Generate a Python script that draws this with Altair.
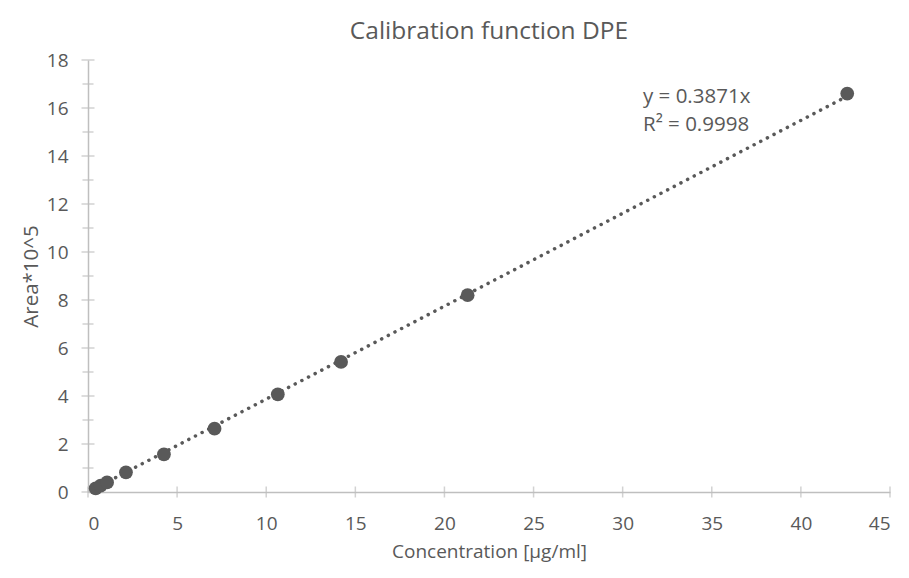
import altair as alt
import pandas as pd

# ---- data ----
conc = [0.43, 0.71, 1.07, 2.13, 4.26, 7.10, 10.65, 14.20, 21.30, 42.60]
area = [0.15, 0.27, 0.40, 0.82, 1.57, 2.64, 4.07, 5.42, 8.20, 16.60]
slope = 0.3871
r2 = 0.9998
x_ticks = [0, 5, 10, 15, 20, 25, 30, 35, 40, 45]
y_major = [0, 2, 4, 6, 8, 10, 12, 14, 16, 18]
y_minor = [1, 3, 5, 7, 9, 11, 13, 15, 17]

GRAY = "#595959"
AXC = "#BFBFBF"
FONT = "Open Sans"
W, H = 802, 432

points = pd.DataFrame({"conc": conc, "area": area})
trend = pd.DataFrame({"conc": [min(conc), max(conc)]})
xt = pd.DataFrame({"v": x_ticks})
ytM = pd.DataFrame({"v": y_major})
ytm = pd.DataFrame({"v": y_minor})
eq = pd.DataFrame({"t": [f"y = {slope}x"]})
rr = pd.DataFrame({"t": [f"R² = {r2}"]})

xs = alt.Scale(domain=[0, 45], nice=False, zero=False)
ys = alt.Scale(domain=[0, 18], nice=False, zero=False)

x_axis = alt.Axis(values=x_ticks, title="Concentration [µg/ml]", ticks=False, grid=False,
                  domainColor=AXC, domainWidth=1.5, labelPadding=22, titlePadding=9,
                  labelFontSize=19, labelColor=GRAY, labelFont=FONT,
                  titleFontSize=19, titleColor=GRAY, titleFont=FONT, titleFontWeight="normal")
y_axis = alt.Axis(values=y_major, title="Area*10^5", ticks=False, grid=False,
                  domainColor=AXC, domainWidth=1.5, labelPadding=20, titlePadding=5,
                  labelFontSize=19, labelColor=GRAY, labelFont=FONT,
                  titleFontSize=20.5, titleColor=GRAY, titleFont=FONT, titleFontWeight="normal")

axes = alt.Chart(points).mark_point(opacity=0).encode(
    x=alt.X("conc:Q", scale=xs, axis=x_axis),
    y=alt.Y("area:Q", scale=ys, axis=y_axis),
)

xtick = alt.Chart(xt).mark_tick(orient="vertical", size=11, thickness=1.5, color=AXC).encode(
    x=alt.X("v:Q", scale=xs), y=alt.value(H))
ytickM = alt.Chart(ytM).mark_tick(orient="horizontal", size=13, thickness=1.5, color=AXC).encode(
    y=alt.Y("v:Q", scale=ys), x=alt.value(0))
ytickm = alt.Chart(ytm).mark_tick(orient="horizontal", size=11, thickness=1.5, color=AXC).encode(
    y=alt.Y("v:Q", scale=ys), x=alt.value(0))

line = alt.Chart(trend).transform_calculate(area=f"{slope} * datum.conc").mark_line(
    color=GRAY, strokeWidth=3.5, strokeCap="round", strokeDash=[0.1, 7.4]).encode(
    x=alt.X("conc:Q", scale=xs), y=alt.Y("area:Q", scale=ys))

dots = alt.Chart(points).mark_circle(color=GRAY, size=190, opacity=1).encode(
    x=alt.X("conc:Q", scale=xs), y=alt.Y("area:Q", scale=ys))

t1 = alt.Chart(eq).mark_text(align="left", baseline="middle", font=FONT, fontSize=20.5, color=GRAY).encode(
    text="t:N", x=alt.value(555), y=alt.value(37))
t2 = alt.Chart(rr).mark_text(align="left", baseline="middle", font=FONT, fontSize=20.5, color=GRAY).encode(
    text="t:N", x=alt.value(555), y=alt.value(65))

chart = alt.layer(axes, xtick, ytickM, ytickm, line, dots, t1, t2).properties(
    width=W, height=H,
    title=alt.TitleParams("Calibration function DPE", font=FONT, fontSize=24.5, color=GRAY,
                          fontWeight="normal", anchor="middle", offset=7),
    autosize=alt.AutoSizeParams(type="none"),
    padding={"left": 80, "top": 52, "right": 11, "bottom": 72},
).configure_view(stroke=None)

chart.save("out.html", embed_options={"renderer": "svg", "actions": False})
